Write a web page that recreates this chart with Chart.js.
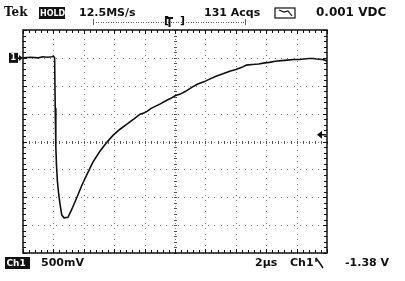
<!DOCTYPE html>
<html><head><meta charset="utf-8">
<script src="https://cdn.jsdelivr.net/npm/chart.js@4/dist/chart.umd.min.js"></script>
<style>html,body{margin:0;padding:0;background:#fff;}#wrap{width:405px;height:281px;position:relative;}</style>
</head><body><div id="wrap"><canvas id="c" width="405" height="281"></canvas></div>
<script>
// time in microseconds (2 µs/div), voltage in volts (500 mV/div)
const timeUs = [0,0.5,1.0,1.3,1.6,1.9,2.0,2.08,2.12,2.16,2.2,2.26,2.35,2.45,2.55,2.7,2.96,3.22,3.55,3.88,4.21,4.6,5.07,5.3,5.53,5.92,6.38,6.84,7.37,7.7,7.95,8.16,8.4,8.7,9.0,9.4,9.7,10.0,10.35,10.7,11.1,11.5,11.9,12.2,12.7,13.2,13.6,14.0,14.4,14.7,15.1,15.5,15.9,16.2,16.6,17.0,17.4,17.8,18.2,18.5,18.8,19.1,19.3,19.5,19.7,19.85,20.0];
const volts  = [0.0,0.01,0.0,0.02,0.01,0.02,0.03,0.0,-0.9,-1.6,-1.9,-2.2,-2.45,-2.65,-2.82,-2.87,-2.86,-2.71,-2.5,-2.28,-2.09,-1.87,-1.67,-1.59,-1.51,-1.39,-1.28,-1.19,-1.08,-1.01,-0.99,-0.96,-0.91,-0.87,-0.83,-0.77,-0.73,-0.68,-0.65,-0.6,-0.53,-0.47,-0.43,-0.39,-0.33,-0.28,-0.24,-0.21,-0.17,-0.13,-0.12,-0.11,-0.09,-0.08,-0.06,-0.05,-0.04,-0.03,-0.03,-0.02,-0.01,-0.01,-0.02,-0.025,-0.03,-0.04,-0.06];
const xTicks = [0,2,4,6,8,10,12,14,16,18,20];
const yTicks = [-3.5,-3,-2.5,-2,-1.5,-1,-0.5,0,0.5];
const triggerLevel = -1.38;
const topLabels = ["Tek","HOLD","12.5MS/s","131 Acqs","0.001 VDC"];
const bottomLabels = ["Ch1","500mV","2µs","Ch1","-1.38 V"];

const scopePlugin = {
  id:'scope',
  beforeDatasetsDraw(chart){
    const ctx = chart.ctx, a = chart.chartArea, xs = chart.scales.x, ys = chart.scales.y;
    ctx.save();
    ctx.fillStyle = '#777';
    xTicks.slice(1,-1).forEach(t=>{
      const px = Math.round(xs.getPixelForValue(t));
      for(let y=a.top+3; y<a.bottom; y+= (a.bottom-a.top)/40){ ctx.fillRect(px, Math.round(y), 1, 1); }
    });
    yTicks.slice(1,-1).forEach(v=>{
      const py = Math.round(ys.getPixelForValue(v));
      for(let x=a.left+3; x<a.right; x+= (a.right-a.left)/50){ ctx.fillRect(Math.round(x), py, 1, 1); }
    });
    const cx = Math.round(xs.getPixelForValue(10)), cy = Math.round(ys.getPixelForValue(-1.5));
    ctx.fillStyle = '#555';
    for(let i=0;i<=50;i++){ const x = Math.round(a.left + i*(a.right-a.left)/50); ctx.fillRect(x, cy-1, 1, 3); }
    for(let i=0;i<=40;i++){ const y = Math.round(a.top + i*(a.bottom-a.top)/40); ctx.fillRect(cx-1, y, 3, 1); }
    ctx.strokeStyle = '#111'; ctx.lineWidth = 1.5;
    ctx.strokeRect(a.left, a.top, a.right-a.left, a.bottom-a.top);
    ctx.fillStyle = '#111';
    for(let i=0;i<=50;i++){
      const x = Math.round(a.left + i*(a.right-a.left)/50);
      const len = (i%5===0)?4:3;
      ctx.fillRect(x, a.top, 1, len); ctx.fillRect(x, a.bottom-len, 1, len);
    }
    for(let i=0;i<=40;i++){
      const y = Math.round(a.top + i*(a.bottom-a.top)/40);
      const len = (i%5===0)?4:3;
      ctx.fillRect(a.left, y, len, 1); ctx.fillRect(a.right-len, y, len, 1);
    }
    ctx.restore();
  },
  afterDraw(chart){
    const ctx = chart.ctx, a = chart.chartArea, ys = chart.scales.y;
    ctx.save();
    ctx.textBaseline = 'middle';
    ctx.fillStyle = '#111';
    ctx.font = 'bold 12px "DejaVu Serif"';
    ctx.fillText(topLabels[0], 4, 13);
    ctx.fillRect(39, 7, 26, 12);
    ctx.fillStyle = '#fff'; ctx.font = 'bold 8px "DejaVu Sans"';
    ctx.fillText(topLabels[1], 40, 13.5);
    ctx.fillStyle = '#111'; ctx.font = 'bold 11px "DejaVu Sans"';
    ctx.fillText(topLabels[2], 79, 13);
    ctx.fillText(topLabels[3], 204, 13);
    ctx.font = 'bold 12px "DejaVu Sans"';
    ctx.fillText(topLabels[4], 316, 13);
    ctx.lineWidth = 1.2; ctx.strokeStyle = '#111';
    ctx.strokeRect(275, 8, 20, 10);
    ctx.beginPath(); ctx.moveTo(279,10); ctx.lineTo(284,12); ctx.lineTo(288,11); ctx.lineTo(292,16); ctx.stroke();
    ctx.fillStyle = '#666';
    for(let x=93; x<245; x+=2.5){ ctx.fillRect(Math.round(x), 22, 1, 1); }
    ctx.fillRect(93, 19, 1, 6); ctx.fillRect(245, 19, 1, 6);
    ctx.fillStyle = '#111';
    ctx.font = 'bold 11px "DejaVu Sans"';
    ctx.fillText('[', 164, 21); ctx.fillText(']', 180, 21);
    ctx.fillRect(166,17,7,2); ctx.fillRect(168.5,17,2,10);
    const gy = ys.getPixelForValue(0);
    ctx.fillRect(9, gy-5, 9, 10);
    ctx.fillStyle = '#fff'; ctx.font = 'bold 8px "DejaVu Sans"';
    ctx.fillText('1', 10.5, gy);
    ctx.fillStyle = '#111';
    ctx.fillRect(18, gy-0.5, 4, 1.5);
    ctx.beginPath(); ctx.moveTo(23,gy); ctx.lineTo(19,gy-3); ctx.lineTo(19,gy+3); ctx.closePath(); ctx.fill();
    const ty = ys.getPixelForValue(triggerLevel);
    ctx.beginPath(); ctx.moveTo(317,ty); ctx.lineTo(322,ty-4); ctx.lineTo(322,ty+4); ctx.closePath(); ctx.fill();
    ctx.fillRect(321, ty-0.75, 5, 1.5);
    ctx.fillRect(5, 257, 25, 12);
    ctx.fillStyle = '#fff'; ctx.font = 'bold 9px "DejaVu Sans"';
    ctx.fillText(bottomLabels[0], 6.5, 263.5);
    ctx.fillStyle = '#111'; ctx.font = 'bold 11px "DejaVu Sans"';
    ctx.fillText(bottomLabels[1], 41, 263);
    ctx.fillText(bottomLabels[2], 255, 263);
    ctx.fillText(bottomLabels[3], 290, 263);
    ctx.lineWidth = 1.5;
    ctx.beginPath(); ctx.moveTo(316,258); ctx.lineTo(319,262); ctx.lineTo(323,268); ctx.stroke();
    ctx.beginPath(); ctx.moveTo(316,258); ctx.lineTo(316,262); ctx.stroke();
    ctx.fillText(bottomLabels[4], 345, 263);
    ctx.restore();
  }
};

new Chart(document.getElementById('c'), {
  type:'line',
  data:{ datasets:[{ data: timeUs.map((t,i)=>({x:t,y:volts[i]})), borderColor:'#111', borderWidth:1.6, pointRadius:0, tension:0, fill:false }]},
  options:{
    responsive:false, animation:false, devicePixelRatio:1,
    layout:{ padding:{ left:23, right:78, top:30, bottom:28 } },
    plugins:{ legend:{display:false}, tooltip:{enabled:false} },
    scales:{
      x:{ type:'linear', min:0, max:20, display:false },
      y:{ type:'linear', min:-3.5, max:0.5, display:false }
    }
  },
  plugins:[scopePlugin]
});
</script></body></html>
